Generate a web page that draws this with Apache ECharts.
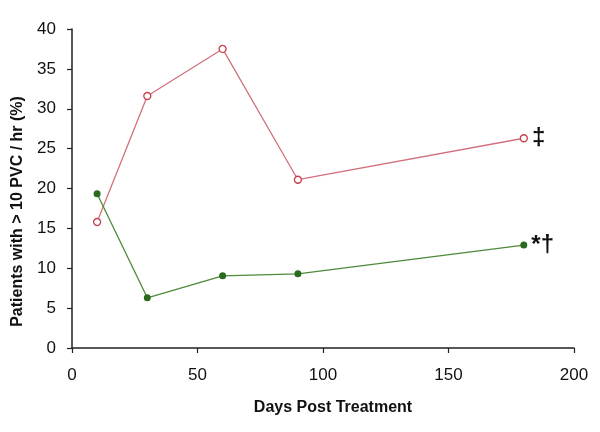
<!DOCTYPE html>
<html><head><meta charset="utf-8">
<script src="https://cdn.jsdelivr.net/npm/echarts@6/dist/echarts.min.js"></script>
<style>html,body{margin:0;padding:0;background:#fff}#c{width:600px;height:432px}</style>
</head><body><div id="c"></div>
<script>
var days = [10, 30, 60, 90, 180];
var redValues = [15.8, 31.6, 37.5, 21.1, 26.3];
var greenValues = [19.35, 6.3, 9.05, 9.3, 12.9];
var redNote = '‡';
var greenNote = '*†';
var xTicks = [0, 50, 100, 150, 200];
var yTicks = [0, 5, 10, 15, 20, 25, 30, 35, 40];

function build(vals, note) {
  return days.map(function (d, i) {
    var item = { value: [d, vals[i]] };
    if (i === days.length - 1) {
      item.label = { show: true, position: 'right', distance: 4, formatter: note,
        color: '#111', fontSize: 24, fontWeight: 'bold', fontFamily: 'Liberation Sans, Arial' };
    }
    return item;
  });
}

var chart = echarts.init(document.getElementById('c'));
chart.setOption({
  animation: false,
  grid: { left: 72, right: 26, top: 29, bottom: 84 },
  xAxis: {
    type: 'value', min: xTicks[0], max: xTicks[xTicks.length - 1], interval: 50,
    name: 'Days Post Treatment', nameLocation: 'middle', nameGap: 52,
    nameTextStyle: { fontSize: 16, fontWeight: 'bold', color: '#111', fontFamily: 'Liberation Sans, Arial', padding: [0, 0, 0, 20] },
    axisLine: { lineStyle: { color: '#222', width: 1.5 } },
    axisTick: { show: true, length: 5, lineStyle: { color: '#222', width: 1.2 } },
    axisLabel: { fontSize: 17, color: '#111', margin: 19, fontFamily: 'Liberation Sans, Arial' },
    splitLine: { show: false }
  },
  yAxis: {
    type: 'value', min: yTicks[0], max: yTicks[yTicks.length - 1], interval: 5,
    name: 'Patients with > 10 PVC / hr (%)', nameLocation: 'middle', nameGap: 46,
    nameTextStyle: { fontSize: 16, fontWeight: 'bold', color: '#111', fontFamily: 'Liberation Sans, Arial', padding: [0, 46, 0, 0] },
    axisLine: { show: true, lineStyle: { color: '#222', width: 1.5 } },
    axisTick: { show: true, length: 5, lineStyle: { color: '#222', width: 1.2 } },
    axisLabel: { fontSize: 17, color: '#111', margin: 16, fontFamily: 'Liberation Sans, Arial' },
    splitLine: { show: false }
  },
  series: [
    {
      type: 'line', data: build(redValues, redNote),
      symbol: 'circle', symbolSize: 7,
      lineStyle: { color: '#d2707c', width: 1.3 },
      itemStyle: { color: '#fff', borderColor: '#c8404f', borderWidth: 1.3 }
    },
    {
      type: 'line', data: build(greenValues, greenNote),
      symbol: 'circle', symbolSize: 7,
      lineStyle: { color: '#4e8a3a', width: 1.3 },
      itemStyle: { color: '#2a6a1e', borderColor: '#2a6a1e', borderWidth: 0 }
    }
  ]
});
</script></body></html>
